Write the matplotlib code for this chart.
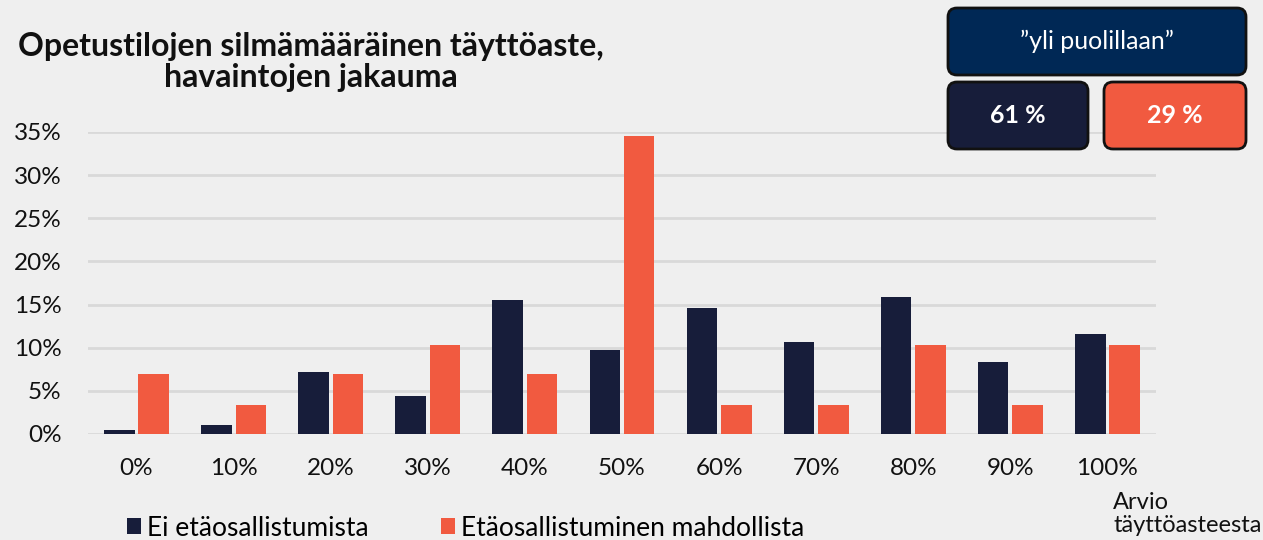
import numpy as np
import matplotlib.pyplot as plt
from matplotlib.patches import FancyBboxPatch

plt.rcParams['font.family'] = ['Lato', 'DejaVu Sans']

# --------------------------------------------------------------------------- #
#  Data (share of observations, %)
# --------------------------------------------------------------------------- #
categories = ["0%", "10%", "20%", "30%", "40%", "50%", "60%", "70%", "80%", "90%", "100%"]
ei_eta = [0.5, 1.0, 7.2, 4.4, 15.5, 9.7, 14.6, 10.7, 15.9, 8.4, 11.6]
eta_mahd = [6.9, 3.4, 6.9, 10.3, 6.9, 34.5, 3.4, 3.4, 10.3, 3.4, 10.3]
series_labels = ["Ei etäosallistumista", "Etäosallistuminen mahdollista"]
y_ticks = [0, 5, 10, 15, 20, 25, 30, 35]
box_texts = ["\u201dyli puolillaan\u201d", "61 %", "29 %"]

DARK = "#171d3a"
ORANGE = "#f15a40"
NAVY = "#002855"
BG = "#efefef"

fig = plt.figure(figsize=(12.63, 5.4), dpi=100, facecolor=BG)
ax = fig.add_axes([88 / 1263, 106 / 540, 1068 / 1263, 302 / 540], facecolor=BG)

x = np.arange(len(categories))
w = 0.315
b1 = ax.bar(x - 0.177, ei_eta, w, color=DARK, zorder=3, label=series_labels[0])
b2 = ax.bar(x + 0.177, eta_mahd, w, color=ORANGE, zorder=3, label=series_labels[1])

ax.set_xlim(-0.5, 10.5)
ax.set_ylim(0, 35)
ax.set_yticks(y_ticks)
ax.set_yticklabels([f"{t}%" for t in y_ticks])
ax.set_xticks(x)
ax.set_xticklabels(categories)
ax.tick_params(axis="y", length=0, pad=19, labelsize=17.5, colors="#111111")
ax.tick_params(axis="x", length=0, pad=17, labelsize=17.5, colors="#111111")
ax.grid(axis="y", color="#d9d9d9", linewidth=2, zorder=0)
for s in ax.spines.values():
    s.set_visible(False)

# title
fig.text(311 / 1263, 1 - 62 / 540,
         "Opetustilojen silmämääräinen täyttöaste,\nhavaintojen jakauma",
         ha="center", va="center", fontsize=23, fontweight="bold",
         linespacing=1.1, color="#111111")

# axis caption
fig.text(1113 / 1263, 1 - 514 / 540, "Arvio\ntäyttöasteesta",
         ha="left", va="center", fontsize=17, linespacing=1.08, color="#111111")

# legend
fig.legend(handles=[b1, b2], labels=series_labels, loc="lower left",
           bbox_to_anchor=(103 / 1263, -0.045), ncol=2, frameon=False,
           fontsize=19, handlelength=0.55, handleheight=0.55,
           handletextpad=0.2, columnspacing=2.75)

# summary boxes (pixel coordinates overlay)
ov = fig.add_axes([0, 0, 1, 1], facecolor="none")
ov.set_xlim(0, 1263)
ov.set_ylim(540, 0)
ov.axis("off")
boxes = [(948, 8, 298, 67, NAVY), (948, 82, 140, 67, DARK), (1104, 82, 142, 67, ORANGE)]
for (bx, by, bw, bh, col), txt, bold in zip(boxes, box_texts, [False, True, True]):
    ov.add_patch(FancyBboxPatch((bx + 9, by + 9), bw - 18, bh - 18,
                                boxstyle="round,pad=9", facecolor=col,
                                edgecolor="#111111", linewidth=2))
    ov.text(bx + bw / 2, by + bh / 2, txt, ha="center", va="center",
            color="white", fontsize=18, fontweight="bold" if bold else "normal")

fig.savefig("out.png", dpi=100, facecolor=BG)
